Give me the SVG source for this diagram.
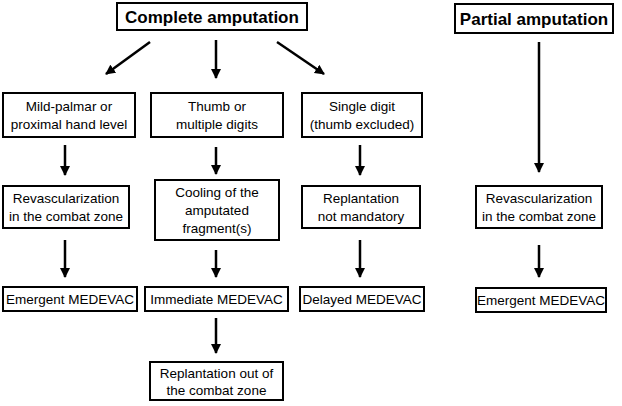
<svg xmlns="http://www.w3.org/2000/svg" width="622" height="406" viewBox="0 0 622 406">
<defs>
<style>
.box{fill:#fff;stroke:#000;stroke-width:2}
.t{font-family:"Liberation Sans",Arial,sans-serif;font-size:13.5px;fill:#000;text-anchor:middle}
.h{font-family:"Liberation Sans",Arial,sans-serif;font-size:17px;font-weight:bold;fill:#000;text-anchor:middle}
.c{stroke:#000;stroke-width:2.5;fill:none;marker-end:url(#ah)}
</style>
<marker id="ah" viewBox="0 0 10 10" refX="9" refY="5" markerWidth="4" markerHeight="4" orient="auto" markerUnits="strokeWidth">
<path d="M0,0 L10,5 L0,10 z" fill="#000"/>
</marker>
</defs>
<rect width="622" height="406" fill="#fff"/>
<g id="connectors">
<line class="c" x1="150" y1="42" x2="106" y2="74"/>
<line class="c" x1="216" y1="40" x2="216" y2="78"/>
<line class="c" x1="277" y1="42" x2="324" y2="74"/>
<line class="c" x1="539" y1="42" x2="539" y2="172"/>
<line class="c" x1="65" y1="145" x2="65" y2="175"/>
<line class="c" x1="216" y1="147" x2="216" y2="174"/>
<line class="c" x1="360" y1="145" x2="360" y2="175"/>
<line class="c" x1="65" y1="240" x2="65" y2="277"/>
<line class="c" x1="216" y1="250" x2="216" y2="277"/>
<line class="c" x1="360" y1="240" x2="360" y2="277"/>
<line class="c" x1="539" y1="245" x2="539" y2="277"/>
<line class="c" x1="216" y1="318" x2="216" y2="353"/>
</g>
<g id="complete"><rect class="box" x="117" y="3" width="190" height="27"/><text class="h" x="212" y="23">Complete amputation</text></g>
<g id="partial"><rect class="box" x="455" y="4" width="158" height="29"/><text class="h" x="534" y="25">Partial amputation</text></g>
<g id="mild"><rect class="box" x="3" y="93" width="132" height="44"/><text class="t" x="69" y="111">Mild-palmar or</text><text class="t" x="69" y="129">proximal hand level</text></g>
<g id="thumb"><rect class="box" x="151" y="93" width="132" height="44"/><text class="t" x="217" y="111">Thumb or</text><text class="t" x="217" y="129">multiple digits</text></g>
<g id="single"><rect class="box" x="302" y="93" width="120" height="44"/><text class="t" x="362" y="111">Single digit</text><text class="t" x="362" y="129">(thumb excluded)</text></g>
<g id="revasc1"><rect class="box" x="3" y="186" width="126" height="42"/><text class="t" x="66" y="203">Revascularization</text><text class="t" x="66" y="221">in the combat zone</text></g>
<g id="cooling"><rect class="box" x="155" y="180" width="124" height="60"/><text class="t" x="217" y="197">Cooling of the</text><text class="t" x="217" y="215">amputated</text><text class="t" x="217" y="233">fragment(s)</text></g>
<g id="notmand"><rect class="box" x="302" y="186" width="118" height="42"/><text class="t" x="361" y="203">Replantation</text><text class="t" x="361" y="221">not mandatory</text></g>
<g id="revasc2"><rect class="box" x="476" y="186" width="126" height="42"/><text class="t" x="539" y="203">Revascularization</text><text class="t" x="539" y="221">in the combat zone</text></g>
<g id="emergent1"><rect class="box" x="3" y="287" width="134" height="24"/><text class="t" x="70" y="304">Emergent MEDEVAC</text></g>
<g id="immediate"><rect class="box" x="145" y="287" width="143" height="24"/><text class="t" x="216.5" y="304">Immediate MEDEVAC</text></g>
<g id="delayed"><rect class="box" x="300" y="287" width="124" height="24"/><text class="t" x="362" y="304">Delayed MEDEVAC</text></g>
<g id="emergent2"><rect class="box" x="476" y="288" width="130" height="24"/><text class="t" x="541" y="305">Emergent MEDEVAC</text></g>
<g id="replant"><rect class="box" x="150" y="362" width="133" height="38"/><text class="t" x="216.5" y="378">Replantation out of</text><text class="t" x="216.5" y="395">the combat zone</text></g>
</svg>
